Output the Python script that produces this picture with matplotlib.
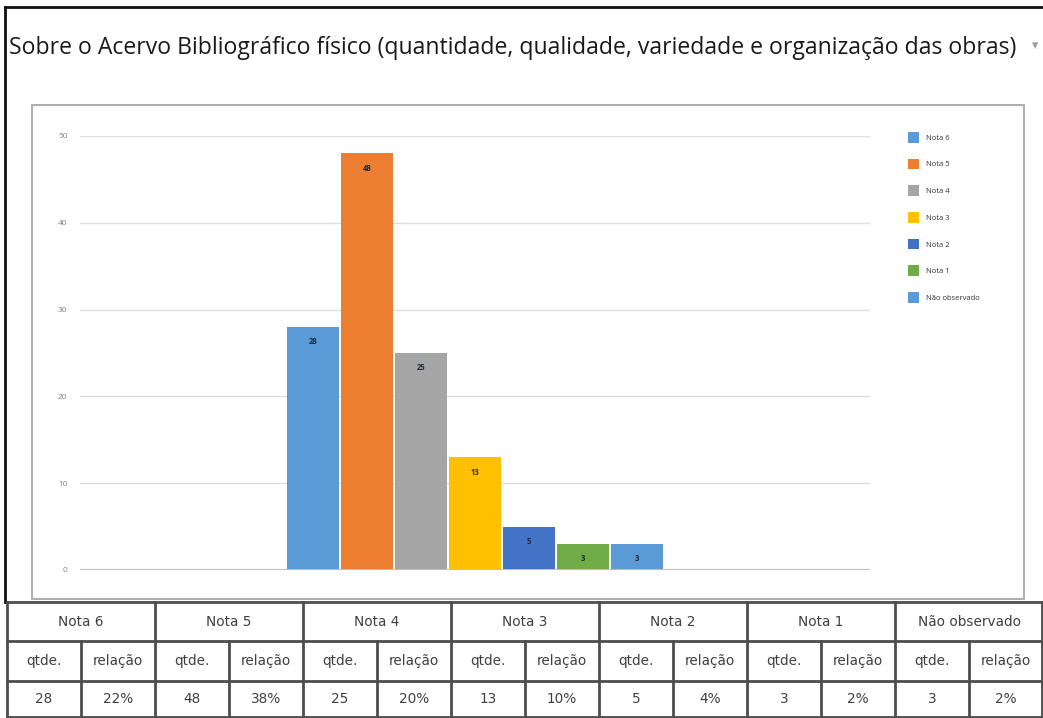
import matplotlib
matplotlib.use('Agg')
import matplotlib.pyplot as plt
from matplotlib.patches import Rectangle

# dados
titulo = 'Sobre o Acervo Bibliográfico físico (quantidade, qualidade, variedade e organização das obras)'
notas = ['Nota 6', 'Nota 5', 'Nota 4', 'Nota 3', 'Nota 2', 'Nota 1', 'Não observado']
qtde = [28, 48, 25, 13, 5, 3, 3]
relacao = ['22%', '38%', '20%', '10%', '4%', '2%', '2%']
cores = ['#5b9bd5', '#ed7d31', '#a5a5a5', '#ffc000', '#4472c4', '#70ad47', '#5b9bd5']
yticks = [0, 10, 20, 30, 40, 50]

W, H = 1043, 718
plt.rcParams['font.family'] = ['Open Sans', 'DejaVu Sans']
fig = plt.figure(figsize=(W / 100, H / 100), dpi=100)

# camada de fundo em pixels (moldura, titulo, tabela)
bg = fig.add_axes([0, 0, 1, 1])
bg.set_xlim(0, W)
bg.set_ylim(H, 0)
bg.axis('off')

bg.plot([5, W], [7, 7], color='#111111', lw=2)
bg.plot([5, 5], [7, 602], color='#111111', lw=2)
bg.text(9, 48, titulo, fontsize=16.6, color='#1a1a1a', va='center', ha='left')
bg.text(1035, 46, '▾', fontsize=9, color='#9a9a9a', va='center', ha='center',
        family=['DejaVu Sans'])
bg.add_patch(Rectangle((32, 105), 992, 494, fill=False, ec='#a6a6a6', lw=1.3))

# tabela
x0, cw = 7, 74
ys = [602, 641, 681, 717]
lc = '#4d4d4d'
tf = dict(ha='center', va='center', fontsize=9.8, color='#404040', family=['DejaVu Sans'])
for y in ys:
    bg.plot([x0, W], [y, y], color=lc, lw=2)
for k in range(15):
    xx = min(x0 + cw * k, W - 1)
    top = ys[0] if k % 2 == 0 else ys[1]
    bg.plot([xx, xx], [top, ys[3]], color=lc, lw=2)
for i, nome in enumerate(notas):
    xa = x0 + cw * 2 * i
    bg.text(xa + cw, (ys[0] + ys[1]) / 2, nome, **tf)
    bg.text(xa + cw / 2, (ys[1] + ys[2]) / 2, 'qtde.', **tf)
    bg.text(xa + cw * 1.5, (ys[1] + ys[2]) / 2, 'relação', **tf)
    bg.text(xa + cw / 2, (ys[2] + ys[3]) / 2, str(qtde[i]), **tf)
    bg.text(xa + cw * 1.5, (ys[2] + ys[3]) / 2, relacao[i], **tf)

# grafico
ax = fig.add_axes([80 / W, 148 / H, 790 / W, 434 / H])
ax.patch.set_alpha(0)
pos = list(range(len(notas)))
for i in pos:
    b = ax.bar(i, qtde[i], width=0.945, color=cores[i], label=notas[i], zorder=3)
    ax.bar_label(b, padding=-14, fontsize=5.5, fontweight='bold', color='#1f2a3a')

ax.set_xlim(3 - 7.315, 3 + 7.315)
ax.set_ylim(0, 50)
ax.set_yticks(yticks)
ax.set_xticks([])
for s in ax.spines.values():
    s.set_visible(False)
ax.grid(axis='y', color='#dedede', lw=1, zorder=0)
ax.axhline(0, color='#bfbfbf', lw=2.2, zorder=4)
ax.tick_params(axis='y', length=0, pad=9, labelsize=6, labelcolor='#808080')

leg = ax.legend(loc='upper left', bbox_to_anchor=(901 / W, 1 - 125 / H),
                bbox_transform=fig.transFigure, frameon=False, fontsize=5.5,
                handlelength=1.45, handleheight=1.8, labelspacing=2.08, handletextpad=0.9)
for t in leg.get_texts():
    t.set_color('#333333')

fig.savefig('out.png', dpi=100)
